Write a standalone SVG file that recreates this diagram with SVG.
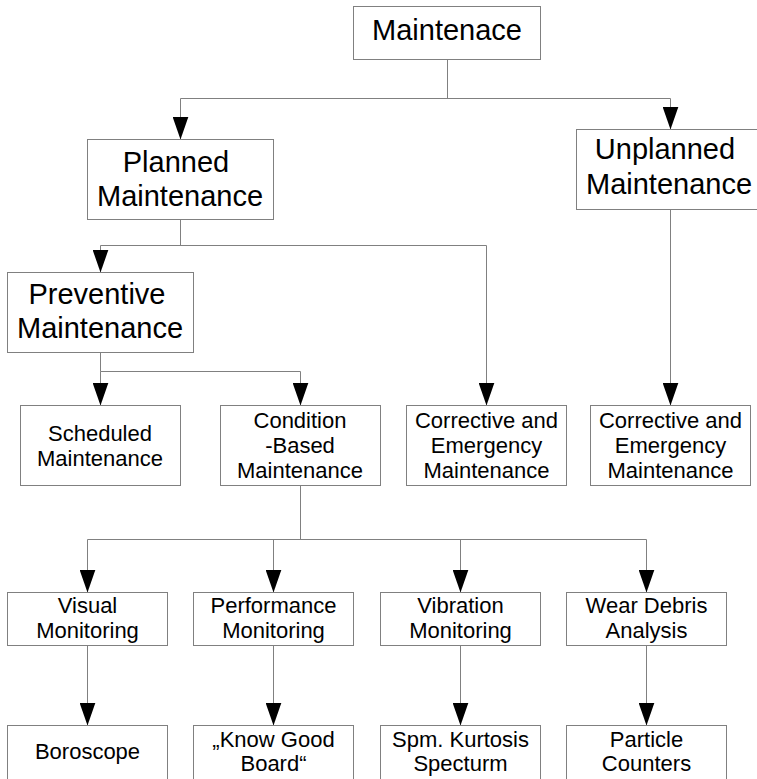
<svg xmlns="http://www.w3.org/2000/svg" width="757" height="779" viewBox="0 0 757 779">
<style>
.box{fill:#fff;stroke:#808080;stroke-width:1}
.lg{font-family:"Liberation Sans",Arial,sans-serif;font-size:29px;fill:#000;text-anchor:middle}
.sm{font-family:"Liberation Sans",Arial,sans-serif;font-size:22px;fill:#000;text-anchor:middle}
.con{fill:none;stroke:#808080;stroke-width:1}
.arr{fill:none;stroke:#808080;stroke-width:1;marker-end:url(#ah)}
</style>
<defs>
<marker id="ah" markerUnits="userSpaceOnUse" markerWidth="23" markerHeight="16" refX="23" refY="8" orient="auto" viewBox="0 0 23 16">
<path d="M0,0 L23,8 L0,16 z" fill="#000"/>
</marker>
</defs>
<rect width="757" height="779" fill="#fff"/>
<g id="connectors">
<path class="con" d="M447.5,59.5 V98.5 M180.5,98.5 H670.5"/>
<path class="arr" d="M180.5,98.5 V139.5"/>
<path class="arr" d="M670.5,98.5 V129.5"/>
<path class="con" d="M180.5,219.5 V245.5 M100.5,245.5 H486.5"/>
<path class="arr" d="M100.5,245.5 V272.5"/>
<path class="arr" d="M486.5,245.5 V405.5"/>
<path class="arr" d="M670.5,209.5 V405.5"/>
<path class="con" d="M100.5,352.5 V371.5 H300.5"/>
<path class="arr" d="M100.5,371.5 V405.5"/>
<path class="arr" d="M300.5,371.5 V405.5"/>
<path class="con" d="M300.5,485.5 V539.5 M87.5,539.5 H646.5"/>
<path class="arr" d="M87.5,539.5 V592.5"/>
<path class="arr" d="M273.5,539.5 V592.5"/>
<path class="arr" d="M460.5,539.5 V592.5"/>
<path class="arr" d="M646.5,539.5 V592.5"/>
<path class="arr" d="M87.5,645.5 V725.5"/>
<path class="arr" d="M273.5,645.5 V725.5"/>
<path class="arr" d="M460.5,645.5 V725.5"/>
<path class="arr" d="M646.5,645.5 V725.5"/>
</g>
<g id="n-maintenace"><rect class="box" x="353.5" y="6.5" width="187" height="53"/><text class="lg" x="447" y="40">Maintenace</text></g>
<g id="n-planned"><rect class="box" x="87.5" y="139.5" width="186" height="80"/><text class="lg" x="176" y="172">Planned</text><text class="lg" x="180" y="206">Maintenance</text></g>
<g id="n-unplanned"><rect class="box" x="576.5" y="129.5" width="190" height="80"/><text class="lg" x="665" y="159">Unplanned</text><text class="lg" x="669" y="194">Maintenance</text></g>
<g id="n-preventive"><rect class="box" x="7.5" y="272.5" width="186" height="80"/><text class="lg" x="97" y="304">Preventive</text><text class="lg" x="100" y="338">Maintenance</text></g>
<g id="n-scheduled"><rect class="box" x="20.5" y="405.5" width="160" height="80"/><text class="sm" x="100" y="441">Scheduled</text><text class="sm" x="100" y="466">Maintenance</text></g>
<g id="n-condition"><rect class="box" x="220.5" y="405.5" width="160" height="80"/><text class="sm" x="300" y="428">Condition</text><text class="sm" x="300" y="453">-Based</text><text class="sm" x="300" y="478">Maintenance</text></g>
<g id="n-corrective1"><rect class="box" x="406.5" y="405.5" width="160" height="80"/><text class="sm" x="486.5" y="428">Corrective and</text><text class="sm" x="486.5" y="453">Emergency</text><text class="sm" x="486.5" y="478">Maintenance</text></g>
<g id="n-corrective2"><rect class="box" x="590.5" y="405.5" width="160" height="80"/><text class="sm" x="670.5" y="428">Corrective and</text><text class="sm" x="670.5" y="453">Emergency</text><text class="sm" x="670.5" y="478">Maintenance</text></g>
<g id="n-visual"><rect class="box" x="7.5" y="592.5" width="160" height="53"/><text class="sm" x="87.5" y="613">Visual</text><text class="sm" x="87.5" y="638">Monitoring</text></g>
<g id="n-performance"><rect class="box" x="193.5" y="592.5" width="160" height="53"/><text class="sm" x="273.5" y="613">Performance</text><text class="sm" x="273.5" y="638">Monitoring</text></g>
<g id="n-vibration"><rect class="box" x="380.5" y="592.5" width="160" height="53"/><text class="sm" x="460.5" y="613">Vibration</text><text class="sm" x="460.5" y="638">Monitoring</text></g>
<g id="n-wear"><rect class="box" x="566.5" y="592.5" width="160" height="53"/><text class="sm" x="646.5" y="613">Wear Debris</text><text class="sm" x="646.5" y="638">Analysis</text></g>
<g id="n-boroscope"><rect class="box" x="7.5" y="725.5" width="160" height="70"/><text class="sm" x="87.5" y="759">Boroscope</text></g>
<g id="n-knowgood"><rect class="box" x="193.5" y="725.5" width="160" height="70"/><text class="sm" x="273.5" y="747">„Know Good</text><text class="sm" x="273.5" y="771">Board“</text></g>
<g id="n-spm"><rect class="box" x="380.5" y="725.5" width="160" height="70"/><text class="sm" x="460.5" y="747">Spm. Kurtosis</text><text class="sm" x="460.5" y="771">Specturm</text></g>
<g id="n-particle"><rect class="box" x="566.5" y="725.5" width="160" height="70"/><text class="sm" x="646.5" y="747">Particle</text><text class="sm" x="646.5" y="771">Counters</text></g>
</svg>
